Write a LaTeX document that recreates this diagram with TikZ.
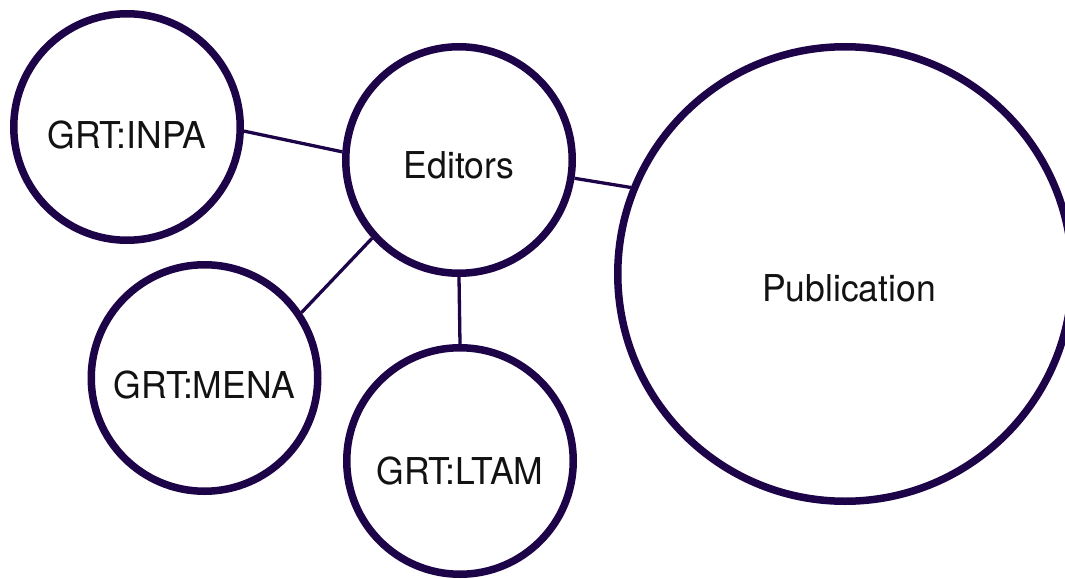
\documentclass[tikz,border=0pt]{standalone}
\usepackage{fontspec}
\setmainfont{TeX Gyre Heros}[FakeStretch=0.96]
\definecolor{ringc}{RGB}{29,4,72}
\definecolor{txtc}{RGB}{18,18,18}
\begin{document}
\begin{tikzpicture}[x=1pt,y=1pt,
  bub/.style={circle, draw=ringc, line width=7.5pt, fill=white, inner sep=0pt},
  lbl/.style={text=txtc, font=\fontsize{37}{40}\selectfont, inner sep=0pt},
  link/.style={draw=ringc, line width=3.3pt}]
\clip (0,0) rectangle (1065,-578);
\fill[white] (0,0) rectangle (1065,-578);
\node[bub, minimum size=226.5pt] (inpa) at (127,-127) {};
\node[bub, minimum size=226.5pt] (ed) at (459,-160) {};
\node[bub, minimum size=226.5pt] (mena) at (204.5,-378) {};
\node[bub, minimum size=226.5pt] (ltam) at (460,-461) {};
\node[bub, minimum size=454.5pt] (pub) at (845,-274) {};
\node[lbl] (inpa-t) at ([yshift=-8.5pt]inpa.center) {GRT:INPA};
\node[lbl] (ed-t) at ([yshift=-5.5pt]ed.center) {Editors};
\node[lbl] (mena-t) at ([yshift=-7.5pt]mena.center) {GRT:MENA};
\node[lbl] (ltam-t) at ([yshift=-10pt]ltam.center) {GRT:LTAM};
\node[lbl] (pub-t) at ([xshift=4pt,yshift=-14pt]pub.center) {Publication};
\draw[link] (inpa.-2) -- (ed.176.6);
\draw[link] (ed.-9.8) -- (pub.158);
\draw[link] (ed.222.9) -- (mena.34.1);
\draw[link] (ed.south) -- (ltam.north);
\end{tikzpicture}
\end{document}
